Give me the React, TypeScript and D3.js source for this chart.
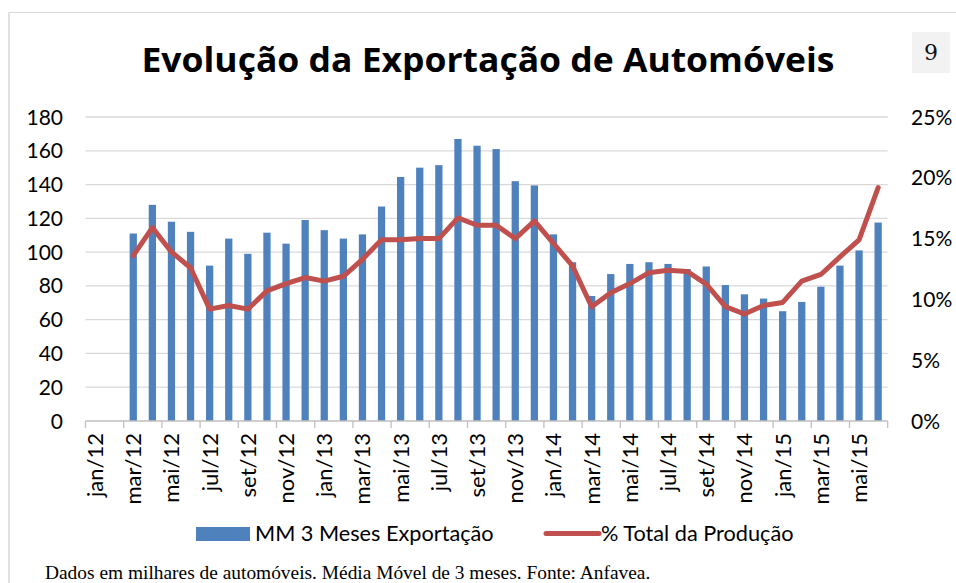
import React from "react";
import * as d3 from "d3";

// meses jan/12 .. jun/15
const monthNames = ["jan", "fev", "mar", "abr", "mai", "jun", "jul", "ago", "set", "out", "nov", "dez"];
const months: string[] = [];
for (let yr = 12; yr <= 15; yr++) {
  for (let m = 0; m < 12; m++) {
    if (yr === 15 && m > 5) break;
    months.push(monthNames[m] + "/" + yr);
  }
}

// MM 3 meses exportação (milhares)
const exportValues: (number | null)[] = [
  null, null, 111, 128, 118, 112, 92, 108, 99, 111.5, 105, 119,
  113, 108, 110.5, 127, 144.5, 150, 151.5, 167, 163, 161, 142, 139.5,
  110.5, 94, 74, 87, 93, 94, 93, 90, 91.5, 80.5, 75, 72.5,
  65, 70.5, 79.5, 92, 101, 117.5,
];

// % do total da produção
const pctValues: (number | null)[] = [
  null, null, 13.6, 15.9, 13.9, 12.6, 9.2, 9.5, 9.2, 10.7, 11.3, 11.8,
  11.5, 11.9, 13.3, 14.9, 14.9, 15.0, 15.0, 16.7, 16.1, 16.1, 15.0, 16.45,
  14.6, 12.75, 9.4, 10.55, 11.3, 12.2, 12.4, 12.3, 11.25, 9.4, 8.8, 9.5,
  9.75, 11.5, 12.05, 13.5, 14.9, 19.2,
];

const leftTicks = [0, 20, 40, 60, 80, 100, 120, 140, 160, 180];
const rightTicks = [0, 5, 10, 15, 20, 25];

const W = 956, H = 583;
const plot = { left: 85.5, right: 887.7, top: 117, bottom: 421 };
const sans = "Lato, 'Open Sans', sans-serif";
const blue = "#4F81BD", red = "#C0504D";

export default function App() {
  const x = d3.scaleBand<string>()
    .domain(months)
    .range([plot.left, plot.right])
    .paddingInner(0.62)
    .paddingOuter(0.31);
  const y = d3.scaleLinear().domain([0, 180]).range([plot.bottom, plot.top]);
  const y2 = d3.scaleLinear().domain([0, 25]).range([plot.bottom, plot.top]);
  const step = x.step();
  const center = (m: string) => (x(m) as number) + x.bandwidth() / 2;

  const pctData = months.map((m, i) => ({ m, v: pctValues[i] })).filter(d => d.v != null);
  const line = d3.line<{ m: string; v: number | null }>()
    .x(d => center(d.m))
    .y(d => y2(d.v as number));

  const tickIdx = d3.range(0, months.length + 1, 2);

  return (
    <div style={{ position: "absolute", left: 0, top: 0 }}>
      <svg width={W} height={H} style={{ display: "block" }}>
        <rect x={0} y={0} width={W} height={H} fill="#fff" />
        {/* borda */}
        <line x1={9} x2={W} y1={12.5} y2={12.5} stroke="#d9d9d9" strokeWidth={1.2} />
        <line x1={9} x2={9} y1={12} y2={H} stroke="#e2e2e2" strokeWidth={2} />

        {/* caixa do número */}
        <rect x={912} y={32} width={38} height={41} fill="#f2f2f2" />
        <text x={931} y={60} textAnchor="middle" fontFamily="'DejaVu Serif', serif" fontSize={22} fill="#111">9</text>

        <text x={488} y={72} textAnchor="middle" fontFamily="'Open Sans', Lato, sans-serif" fontWeight="bold"
          fontSize={34} textLength={693} lengthAdjust="spacingAndGlyphs" fill="#000">
          Evolução da Exportação de Automóveis
        </text>

        {/* grade */}
        {leftTicks.filter(t => t > 0).map(t => (
          <line key={t} x1={plot.left} x2={plot.right} y1={y(t)} y2={y(t)} stroke="#d9d9d9" strokeWidth={1.3} />
        ))}

        {leftTicks.map(t => (
          <text key={t} x={63} y={y(t)} dy="0.36em" textAnchor="end" fontFamily={sans} fontSize={21} fill="#000">{t}</text>
        ))}
        {rightTicks.map(t => (
          <text key={t} x={911} y={y2(t)} dy="0.36em" textAnchor="start" fontFamily={sans} fontSize={21} fill="#000">{t}%</text>
        ))}

        {/* barras */}
        {months.map((m, i) => exportValues[i] == null ? null : (
          <rect key={m} x={x(m)} y={y(exportValues[i] as number)} width={x.bandwidth()}
            height={plot.bottom - y(exportValues[i] as number)} fill={blue} />
        ))}

        {/* eixo x */}
        <line x1={plot.left} x2={plot.right} y1={plot.bottom} y2={plot.bottom} stroke="#bfbfbf" strokeWidth={1.3} />
        {tickIdx.map(i => (
          <line key={i} x1={plot.left + i * step} x2={plot.left + i * step} y1={plot.bottom} y2={plot.bottom + 7}
            stroke="#bfbfbf" strokeWidth={1.3} />
        ))}
        {months.map((m, i) => i % 2 !== 0 ? null : (
          <text key={m} transform={`translate(${center(m)},433) rotate(-90)`} dy="0.36em" textAnchor="end"
            fontFamily={sans} fontSize={22} fill="#000">{m}</text>
        ))}

        {/* linha % */}
        <path d={line(pctData) || ""} fill="none" stroke={red} strokeWidth={5} strokeLinejoin="round" strokeLinecap="round" />

        {/* legenda */}
        <rect x={196} y={527} width={54} height={14} fill={blue} />
        <text x={255} y={541} fontFamily={sans} fontSize={21.7} fill="#000">MM 3 Meses Exportação</text>
        <line x1={546} x2={599} y1={533.5} y2={533.5} stroke={red} strokeWidth={5} strokeLinecap="round" />
        <text x={601} y={541} fontFamily={sans} fontSize={21.7} fill="#000">% Total da Produção</text>

        <text x={45} y={579} fontFamily="'Liberation Serif', serif" fontSize={19.4} fill="#000">
          Dados em milhares de automóveis. Média Móvel de 3 meses. Fonte: Anfavea.
        </text>
      </svg>
    </div>
  );
}
